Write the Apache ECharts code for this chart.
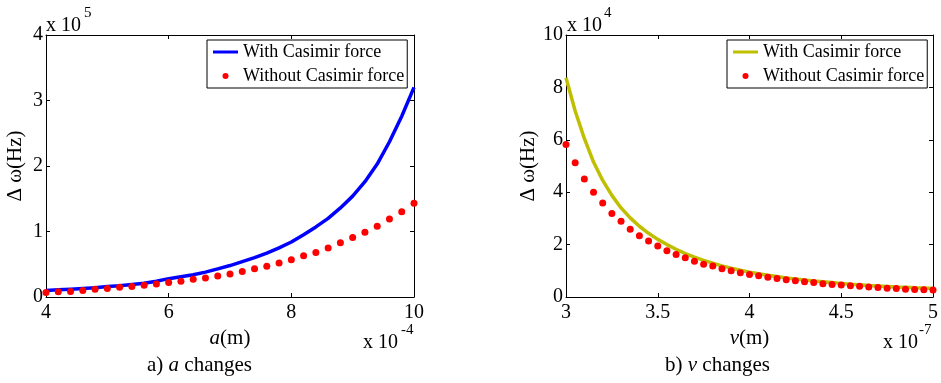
<!DOCTYPE html>
<html>
<head>
<meta charset="utf-8">
<script src="https://cdn.jsdelivr.net/npm/echarts@6/dist/echarts.min.js"></script>
<style>
  html, body { margin: 0; padding: 0; background: #fff; }
  #chart { width: 941px; height: 383px; }
</style>
</head>
<body>
<div id="chart"></div>
<script>
// panel a): x in units of 1e-4 m, y in units of 1e5 Hz
const aX = [4.0, 4.2, 4.4, 4.6, 4.8, 5.0, 5.2, 5.4, 5.6, 5.8, 6.0, 6.2, 6.4, 6.6, 6.8, 7.0,
  7.2, 7.4, 7.6, 7.8, 8.0, 8.2, 8.4, 8.6, 8.8, 9.0, 9.2, 9.4, 9.6, 9.8, 10.0];
const aWith = [0.10, 0.11, 0.12, 0.13, 0.14, 0.16, 0.17, 0.19, 0.21, 0.24, 0.28, 0.31, 0.34, 0.38, 0.43, 0.48,
  0.54, 0.60, 0.67, 0.75, 0.84, 0.95, 1.07, 1.20, 1.36, 1.54, 1.76, 2.03, 2.37, 2.76, 3.20];
const aWithout = [0.07, 0.08, 0.085, 0.10, 0.12, 0.13, 0.15, 0.16, 0.18, 0.20, 0.22, 0.24, 0.27, 0.29, 0.32, 0.35,
  0.39, 0.43, 0.47, 0.52, 0.57, 0.63, 0.68, 0.75, 0.83, 0.91, 0.99, 1.08, 1.19, 1.30, 1.43];

// panel b): x in units of 1e-7 m, y in units of 1e4 Hz
const vX = [3.00, 3.05, 3.10, 3.15, 3.20, 3.25, 3.30, 3.35, 3.40, 3.45, 3.50, 3.55, 3.60, 3.65,
  3.70, 3.75, 3.80, 3.85, 3.90, 3.95, 4.00, 4.05, 4.10, 4.15, 4.20, 4.25, 4.30, 4.35,
  4.40, 4.45, 4.50, 4.55, 4.60, 4.65, 4.70, 4.75, 4.80, 4.85, 4.90, 4.95, 5.00];
const vWith = [8.37, 7.10, 6.05, 5.15, 4.45, 3.88, 3.40, 3.02, 2.70, 2.43, 2.20, 2.00, 1.82, 1.66,
  1.52, 1.40, 1.29, 1.19, 1.10, 1.02, 0.95, 0.89, 0.83, 0.78, 0.73, 0.69, 0.65, 0.61,
  0.58, 0.55, 0.52, 0.49, 0.47, 0.44, 0.42, 0.40, 0.38, 0.37, 0.35, 0.34, 0.32];
const vWithout = [5.82, 5.12, 4.50, 4.00, 3.59, 3.19, 2.89, 2.59, 2.34, 2.14, 1.95, 1.77, 1.62, 1.50,
  1.36, 1.25, 1.18, 1.08, 1.00, 0.93, 0.86, 0.81, 0.75, 0.71, 0.66, 0.62, 0.58, 0.55,
  0.51, 0.48, 0.46, 0.43, 0.41, 0.38, 0.36, 0.33, 0.32, 0.30, 0.29, 0.28, 0.27];

const legendLabels = {
  aWith: "With Casimir force",
  aWithout: "Without Casimir force",
  vWith: "With Casimir force",
  vWithout: "Without Casimir force",
};

const FONT = "Liberation Serif";
const zip = (xs, ys) => xs.map((x, i) => [x, ys[i]]);

function xAxes(grid, min, max, interval, name) {
  const base = {
    type: "value", gridIndex: grid, min: min, max: max, interval: interval,
    axisLine: { show: true, onZero: false, lineStyle: { color: "#000", width: 1 } },
    axisTick: { show: true, inside: true, length: 4, lineStyle: { color: "#000" } },
    splitLine: { show: false },
  };
  return [
    {
      ...base, position: "bottom",
      name: name, nameLocation: "middle", nameGap: 28,
      nameTextStyle: {
        color: "#000", fontFamily: FONT, fontSize: 21,
        rich: { i: { fontFamily: FONT, fontSize: 21, fontStyle: "italic", color: "#000" } },
      },
      axisLabel: { color: "#000", fontFamily: FONT, fontSize: 20, margin: 6 },
    },
    { ...base, position: "top", axisLabel: { show: false } },
  ];
}

function yAxes(grid, min, max, interval) {
  const base = {
    type: "value", gridIndex: grid, min: min, max: max, interval: interval,
    axisLine: { show: true, onZero: false, lineStyle: { color: "#000", width: 1 } },
    axisTick: { show: true, inside: true, length: 4, lineStyle: { color: "#000" } },
    splitLine: { show: false },
  };
  return [
    {
      ...base, position: "left",
      name: "Δ ω(Hz)", nameLocation: "middle", nameGap: 20,
      nameTextStyle: { color: "#000", fontFamily: FONT, fontSize: 21 },
      axisLabel: { color: "#000", fontFamily: FONT, fontSize: 20, margin: 3 },
    },
    { ...base, position: "right", axisLabel: { show: false } },
  ];
}

const lineIcon = "path://M0,0H25V3H0Z";

function legendBox(names, left) {
  return {
    data: [{ name: names[0], icon: lineIcon }, { name: names[1] }],
    left: left, top: 40, orient: "vertical",
    backgroundColor: "#fff", borderColor: "#000", borderWidth: 1,
    padding: [3, 3, 3, 6], itemGap: 6, itemWidth: 25, itemHeight: 6, itemTextGap: 5,
    symbolKeepAspect: true,
    formatter: (n) => legendLabels[n],
    textStyle: { color: "#000", fontFamily: FONT, fontSize: 18 },
  };
}

function txt(text, left, top, size, rich) {
  const style = { text: text, fill: "#000", font: size + "px " + FONT };
  if (rich) style.rich = rich;
  return { type: "text", left: left, top: top, z: 10, style: style };
}

const italicRich = {
  n: { fontFamily: FONT, fontSize: 21, color: "#000" },
  i: { fontFamily: FONT, fontSize: 21, fontStyle: "italic", color: "#000" },
};

const chart = echarts.init(document.getElementById("chart"));
chart.setOption({
  animation: false,
  backgroundColor: "#fff",
  grid: [
    { left: 46, top: 35, width: 368, height: 262 },
    { left: 566, top: 35, width: 368, height: 262 },
  ],
  xAxis: [...xAxes(0, 4, 10, 2, "{i|a}(m)"), ...xAxes(1, 3, 5, 0.5, "{i|v}(m)")],
  yAxis: [...yAxes(0, 0, 4, 1), ...yAxes(1, 0, 10, 2)],
  legend: [legendBox(["aWith", "aWithout"], 207), legendBox(["vWith", "vWithout"], 727)],
  series: [
    {
      name: "aWith", type: "line", xAxisIndex: 0, yAxisIndex: 0,
      data: zip(aX, aWith), symbol: "none", showSymbol: false,
      lineStyle: { color: "#0000ff", width: 3.5 }, itemStyle: { color: "#0000ff" }, z: 2,
    },
    {
      name: "aWithout", type: "scatter", xAxisIndex: 0, yAxisIndex: 0,
      data: zip(aX, aWithout), symbol: "circle", symbolSize: 7, clip: false,
      itemStyle: { color: "#ff0000", opacity: 1 }, z: 3,
    },
    {
      name: "vWith", type: "line", xAxisIndex: 2, yAxisIndex: 2,
      data: zip(vX, vWith), symbol: "none", showSymbol: false,
      lineStyle: { color: "#bfbf00", width: 3.5 }, itemStyle: { color: "#bfbf00" }, z: 2,
    },
    {
      name: "vWithout", type: "scatter", xAxisIndex: 2, yAxisIndex: 2,
      data: zip(vX, vWithout), symbol: "circle", symbolSize: 7, clip: false,
      itemStyle: { color: "#ff0000", opacity: 1 }, z: 3,
    },
  ],
  graphic: [
    txt("x 10", 46, 16, 20),
    txt("5", 84, 6, 15),
    txt("x 10", 363, 333, 20),
    txt("-4", 401, 323, 15),
    txt("x 10", 567, 16, 20),
    txt("4", 604, 6, 15),
    txt("x 10", 883, 333, 20),
    txt("-7", 919, 323, 15),
    txt("{n|a) }{i|a}{n| changes}", 147, 355, 21, italicRich),
    txt("{n|b) }{i|v}{n| changes}", 665, 355, 21, italicRich),
  ],
});
</script>
</body>
</html>
